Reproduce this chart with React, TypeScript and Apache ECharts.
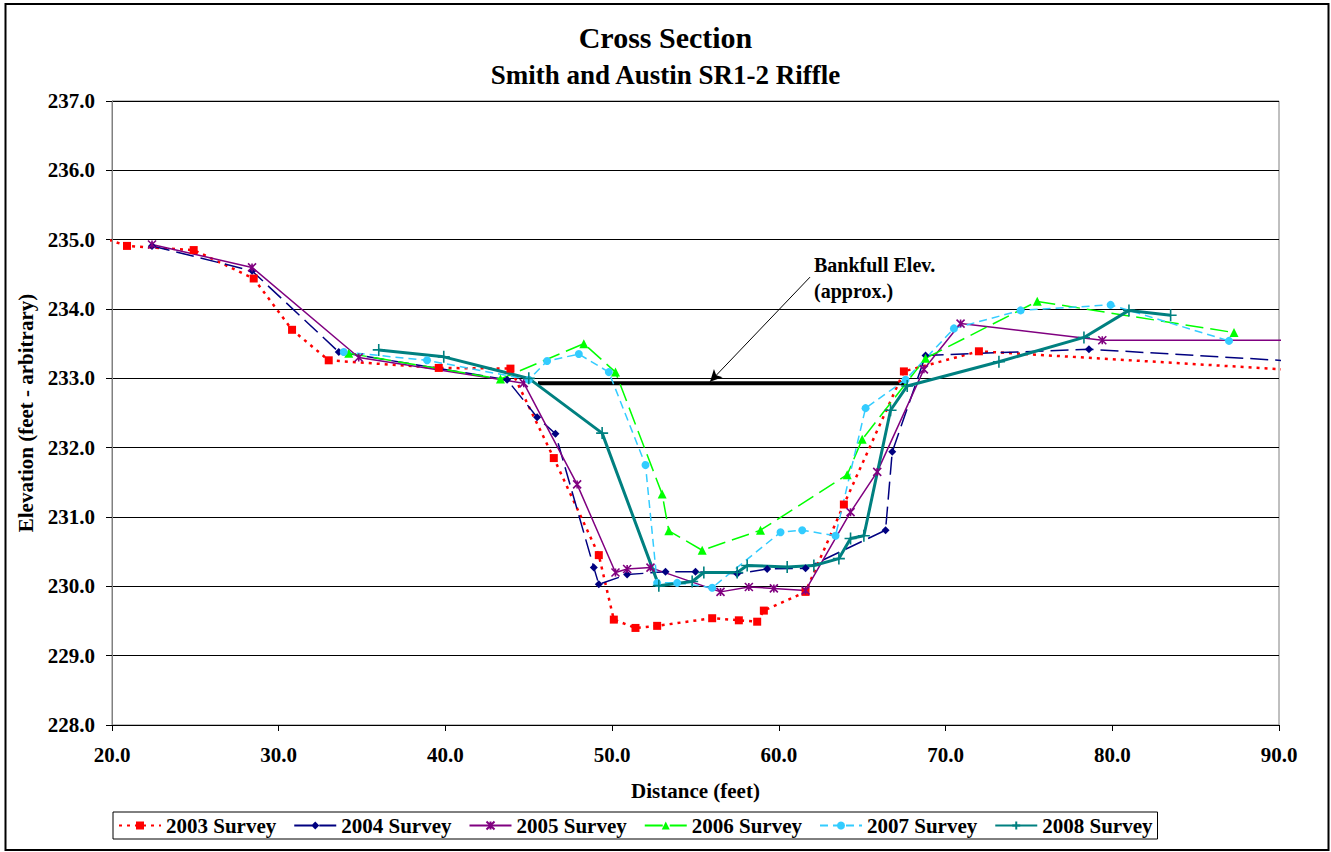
import React, { useEffect, useRef } from "react";
import * as echarts from "echarts";

const FONT = "'Liberation Serif', 'Times New Roman', serif";

const surveyNames = ["2003 Survey", "2004 Survey", "2005 Survey", "2006 Survey", "2007 Survey", "2008 Survey"];

const survey2003: [number, number][] = [
  [18.0, 235.14], [20.9, 234.91], [24.9, 234.85], [28.5, 234.44], [30.8, 233.70], [33.0, 233.26],
  [39.6, 233.15], [43.9, 233.14], [46.5, 231.85], [49.2, 230.45], [50.1, 229.52], [51.4, 229.40],
  [52.7, 229.43], [56.0, 229.54], [57.6, 229.51], [58.7, 229.49], [59.1, 229.65], [61.6, 229.92],
  [63.9, 231.18], [67.5, 233.10], [72.0, 233.39], [100.0, 232.99],
];

const survey2004: [number, number][] = [
  [22.4, 234.91], [28.4, 234.55], [33.6, 233.38], [43.7, 232.98], [45.5, 232.44], [46.6, 232.20],
  [48.9, 230.27], [49.2, 230.03], [50.9, 230.17], [53.2, 230.21], [55.0, 230.21], [57.5, 230.18],
  [59.3, 230.25], [61.6, 230.26], [66.4, 230.81], [66.8, 231.94], [68.8, 233.33], [78.6, 233.42],
  [100.0, 233.12],
];

const survey2005: [number, number][] = [
  [22.4, 234.93], [28.4, 234.60], [34.8, 233.30], [44.7, 232.93], [47.9, 231.47], [50.2, 230.20],
  [50.9, 230.25], [52.3, 230.27], [56.5, 229.92], [58.2, 229.99], [59.7, 229.97], [61.6, 229.94],
  [64.3, 231.07], [65.9, 231.65], [68.7, 233.13], [70.9, 233.79], [79.4, 233.55], [100.0, 233.55],
];

const survey2006: [number, number][] = [
  [34.2, 233.36], [43.3, 232.99], [48.3, 233.50], [50.2, 233.09], [53.0, 231.33], [53.4, 230.80],
  [55.4, 230.52], [58.9, 230.81], [64.1, 231.61], [65.0, 232.12], [68.8, 233.29], [75.5, 234.11],
  [87.3, 233.66],
];

const survey2007: [number, number][] = [
  [33.9, 233.38], [38.9, 233.26], [45.0, 232.98], [46.1, 233.25], [48.0, 233.35], [49.8, 233.09],
  [52.0, 231.75], [52.7, 230.05], [53.9, 230.05], [56.0, 229.98], [60.1, 230.78], [61.4, 230.81],
  [63.4, 230.73], [65.2, 232.57], [67.6, 232.98], [70.5, 233.72], [74.5, 233.98], [79.9, 234.06],
  [87.0, 233.54],
];

const survey2008: [number, number][] = [
  [36.0, 233.41], [39.9, 233.31], [45.0, 233.00], [49.4, 232.21], [52.8, 230.01], [54.8, 230.07],
  [55.5, 230.20], [57.5, 230.20], [58.1, 230.30], [60.5, 230.28], [62.1, 230.30], [63.6, 230.40],
  [64.3, 230.69], [65.1, 230.73], [66.7, 232.54], [67.7, 232.89], [73.2, 233.24], [78.3, 233.59],
  [81.0, 233.98], [83.5, 233.91],
];

const bankfull: [number, number][] = [[45.55, 232.93], [67.7, 232.93]];
const bankfullArrow: [number, number][] = [[61.87, 234.46], [55.87, 232.95]];

const STAR = "path://M0,0L10,10M10,0L0,10M5,0L5,10";
const PLUS = "path://M5,0L5,10M0,5L10,5";

export default function App() {
  const ref = useRef<HTMLDivElement>(null);

  useEffect(() => {
    document.body.style.margin = "0";
    if (!ref.current) return;
    const chart = echarts.init(ref.current, undefined, { renderer: "svg" });

    const text = { fontFamily: FONT, fontWeight: "bold" as const, color: "#000" };

    const line = (
      name: string,
      data: [number, number][],
      color: string,
      type: any,
      width: number,
      symbol: string,
      symbolSize: number,
      stroke = false
    ) => ({
      name,
      type: "line",
      data,
      clip: true,
      symbol,
      symbolSize,
      showSymbol: true,
      lineStyle: { color, width, type },
      itemStyle: stroke
        ? { color, borderColor: color, borderWidth: 1.6 }
        : { color, borderWidth: 0 },
      emphasis: { disabled: true },
    });

    chart.setOption({
      animation: false,
      backgroundColor: "#fff",
      title: [
        { text: "Cross Section", left: "center", top: 17, textStyle: { ...text, fontSize: 30 } },
        { text: "Smith and Austin SR1-2 Riffle", left: "center", top: 56, textStyle: { ...text, fontSize: 27 } },
      ],
      grid: {
        left: 112, right: 52, top: 101, bottom: 127,
        show: true, borderColor: "#808080", borderWidth: 1, backgroundColor: "#fff",
      },
      xAxis: {
        type: "value", min: 20, max: 90, interval: 10,
        name: "Distance (feet)", nameLocation: "middle", nameGap: 55,
        nameTextStyle: { ...text, fontSize: 21 },
        axisLine: { show: true, lineStyle: { color: "#000", width: 1 } },
        axisTick: { show: true, inside: false, length: 6, lineStyle: { color: "#000" } },
        axisLabel: { ...text, fontSize: 21, margin: 19, formatter: (v: number) => v.toFixed(1) },
        splitLine: { show: false },
      },
      yAxis: {
        type: "value", min: 228, max: 237, interval: 1,
        name: "Elevation (feet - arbitrary)", nameLocation: "middle", nameGap: 68,
        nameTextStyle: { ...text, fontSize: 21 },
        axisLine: { show: true, lineStyle: { color: "#808080", width: 1 } },
        axisTick: { show: true, inside: false, length: 6, lineStyle: { color: "#000" } },
        axisLabel: { ...text, fontSize: 21, margin: 17, formatter: (v: number) => v.toFixed(1) },
        splitLine: { show: true, lineStyle: { color: "#000", width: 1 } },
      },
      legend: {
        data: surveyNames,
        left: 113, top: 812,
        orient: "horizontal",
        itemWidth: 42, itemHeight: 10, itemGap: 17,
        padding: [3, 5, 3, 5],
        borderColor: "#000", borderWidth: 1,
        textStyle: { ...text, fontSize: 21 },
        selectedMode: false,
      },
      graphic: [
        {
          type: "rect", silent: true, z: -10,
          shape: { x: 5.5, y: 4, width: 1323, height: 846 },
          style: { fill: "none", stroke: "#000", lineWidth: 2 },
        },
        {
          type: "text", left: 814, top: 252,
          style: { text: "Bankfull Elev.\n(approx.)", font: `bold 20px ${FONT}`, fill: "#000", lineHeight: 26 },
        },
      ],
      series: [
        {
          name: "Bankfull",
          type: "line",
          data: bankfull,
          symbol: "none",
          lineStyle: { color: "#000", width: 4 },
          emphasis: { disabled: true },
          markLine: {
            silent: true,
            symbol: ["none", "arrow"],
            symbolSize: [9, 12],
            label: { show: false },
            lineStyle: { color: "#000", width: 1, type: "solid" },
            data: [[{ coord: bankfullArrow[0] }, { coord: bankfullArrow[1] }]],
          },
        },
        line("2003 Survey", survey2003, "#FF0000", [3, 5], 2.5, "rect", 8),
        line("2004 Survey", survey2004, "#000080", [18, 7], 1.5, "diamond", 8),
        line("2005 Survey", survey2005, "#800080", "solid", 1.5, STAR, 8, true),
        line("2006 Survey", survey2006, "#00FF00", [18, 7], 1.5, "triangle", 9),
        line("2007 Survey", survey2007, "#33CCFF", [8, 5], 1.5, "circle", 8),
        line("2008 Survey", survey2008, "#008080", "solid", 3, PLUS, 12, true),
      ],
    });

    return () => chart.dispose();
  }, []);

  return <div ref={ref} style={{ position: "absolute", left: 0, top: 0, width: 1331, height: 852 }} />;
}
